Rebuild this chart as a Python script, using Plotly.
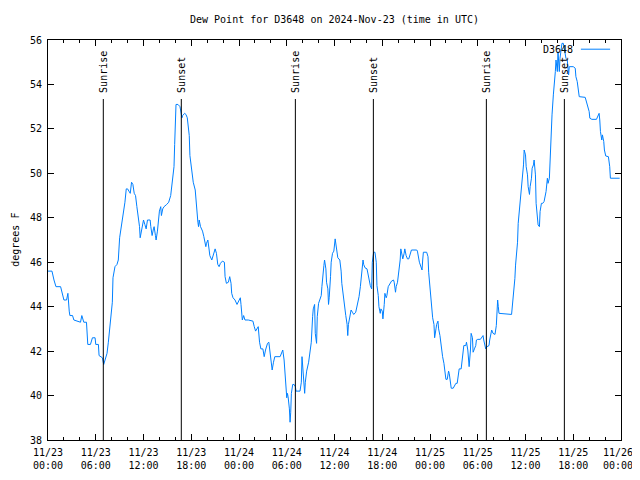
import pandas as pd
import plotly.graph_objects as go

# ---- data ----
start = "2024-11-23 00:00"
end = "2024-11-26 00:00"

# x tick labels, one every 6 hours from start to end
tick_labels = [
    "11/23<br>00:00", "11/23<br>06:00", "11/23<br>12:00", "11/23<br>18:00",
    "11/24<br>00:00", "11/24<br>06:00", "11/24<br>12:00", "11/24<br>18:00",
    "11/25<br>00:00", "11/25<br>06:00", "11/25<br>12:00", "11/25<br>18:00",
    "11/26\u00a0<br>00:00\u00a0",
]

# minutes since 2024-11-23 00:00 UTC
minutes = [
    0, 30, 45, 60, 95, 110, 120, 140, 150, 160,
    165, 185, 195, 245, 255, 270, 290, 300, 320, 335,
    355, 360, 380, 385, 410, 420, 430, 445, 455, 465,
    475, 485, 490, 505, 520, 530, 540, 550, 565, 570,
    580, 590, 600, 610, 620, 630, 640, 650, 660, 670,
    680, 690, 695, 705, 710, 720, 730, 740, 750, 770,
    775, 785, 795, 800, 810, 815, 825, 830, 840, 850,
    855, 865, 875, 895, 910, 925, 935, 950, 955, 965,
    980, 995, 1010, 1015, 1030, 1040, 1050, 1060, 1065, 1070,
    1085, 1095, 1110, 1115, 1120, 1130, 1135, 1140, 1150, 1165,
    1175, 1190, 1195, 1205, 1215, 1220, 1235, 1245, 1260, 1270,
    1280, 1290, 1300, 1315, 1330, 1335, 1345, 1360, 1370, 1380,
    1385, 1395, 1410, 1425, 1435, 1450, 1455, 1465, 1475, 1485,
    1510, 1545, 1555, 1565, 1575, 1585, 1595, 1605, 1620, 1630,
    1640, 1655, 1665, 1675, 1685, 1690, 1700, 1710, 1750, 1760,
    1770, 1780, 1785, 1795, 1800, 1805, 1810, 1820, 1825, 1830,
    1835, 1845, 1855, 1865, 1870, 1900, 1910, 1915, 1920, 1930,
    1935, 1940, 1950, 1965, 1975, 1985, 1995, 2000, 2010, 2015,
    2025, 2030, 2040, 2050, 2060, 2065, 2070, 2080, 2085, 2095,
    2100, 2110, 2115, 2120, 2130, 2135, 2145, 2155, 2165, 2175,
    2185, 2200, 2210, 2215, 2225, 2235, 2245, 2255, 2260, 2265,
    2275, 2285, 2295, 2305, 2320, 2330, 2345, 2355, 2365, 2375,
    2380, 2390, 2405, 2415, 2420, 2430, 2440, 2445, 2455, 2465,
    2475, 2480, 2490, 2495, 2505, 2510, 2520, 2525, 2535, 2540,
    2550, 2555, 2565, 2580, 2590, 2605, 2610, 2620, 2625, 2635,
    2645, 2655, 2660, 2670, 2675, 2685, 2690, 2700, 2710, 2720,
    2735, 2740, 2780, 2785, 2800, 2810, 2820, 2825, 2830, 2855,
    2865, 2870, 2880, 2885, 2895, 2900, 2910, 2915, 2925, 2930,
    2940, 2945, 2955, 2960, 2970, 2975, 2985, 2995, 3000, 3010,
    3020, 3025, 3035, 3040, 3055, 3065, 3075, 3085, 3095, 3100,
    3115, 3120, 3125, 3135, 3150, 3155, 3165, 3170, 3175, 3185,
    3190, 3200, 3205, 3215, 3225, 3230, 3240, 3260, 3270, 3280,
    3285, 3295, 3300, 3310, 3325, 3330, 3340, 3345, 3355, 3370,
    3380, 3385, 3390, 3395, 3400, 3495, 3505, 3510, 3520, 3525,
    3535, 3540, 3545, 3555, 3560, 3570, 3575, 3585, 3590, 3600,
    3605, 3615, 3620, 3630, 3635, 3645, 3650, 3660, 3665, 3675,
    3680, 3690, 3695, 3705, 3710, 3720, 3730, 3740, 3750, 3755,
    3765, 3770, 3780, 3785, 3795, 3800, 3810, 3815, 3825, 3830,
    3840, 3845, 3855, 3860, 3870, 3875, 3885, 3890, 3900, 3905,
    3915, 3925, 3930, 3960, 3975, 3980, 3990, 3995, 4005, 4050,
    4060, 4070, 4080, 4085, 4100, 4135, 4145, 4155, 4160, 4165,
    4175, 4180, 4190, 4195, 4205, 4225, 4235, 4240, 4310,
]

# dew point, degrees F
dewpoint = [
    45.6, 45.6, 45.2, 44.9, 44.9, 44.5, 44.3, 44.3, 44.6, 43.8,
    43.6, 43.6, 43.4, 43.3, 43.6, 43.3, 43.3, 42.3, 42.3, 42.6,
    42.6, 42.3, 42.3, 41.8, 41.7, 41.4, 41.6, 41.9, 42.4, 43.1,
    43.8, 44.2, 45.3, 45.8, 45.9, 46.1, 47.1, 47.5, 47.9, 48.2,
    48.7, 49.3, 49.3, 49.2, 49.1, 49.6, 49.5, 49.1, 49.0, 48.5,
    48.1, 47.6, 47.1, 47.4, 47.6, 47.9, 47.7, 47.5, 47.9, 47.9,
    47.6, 47.2, 47.5, 47.6, 47.2, 47.0, 47.4, 47.8, 48.3, 48.5,
    48.1, 48.4, 48.5, 48.6, 48.7, 49.0, 49.6, 50.3, 51.3, 53.1,
    53.1, 53.0, 52.5, 52.6, 52.7, 52.65, 52.5, 52.1, 51.7, 50.8,
    50.1, 49.6, 49.25, 48.8, 48.3, 47.8, 47.6, 47.9, 47.6, 47.4,
    47.15, 46.7, 46.85, 47.0, 46.55, 46.3, 46.1, 46.3, 46.6, 46.4,
    45.9, 45.8, 45.95, 46.05, 46.0, 45.35, 45.05, 45.1, 45.35, 45.05,
    44.6, 44.4, 44.3, 44.1, 44.2, 44.4, 44.1, 43.4, 43.6, 43.4,
    43.4, 43.35, 43.1, 42.9, 43.0, 43.1, 42.4, 42.1, 42.1, 41.75,
    42.05, 42.35, 42.4, 41.95, 41.5, 41.15, 41.5, 41.75, 41.75, 41.95,
    42.05, 41.6, 41.1, 40.25, 39.9, 40.1, 39.95, 39.4, 38.8, 39.25,
    40.1, 40.5, 40.5, 40.4, 40.2, 40.2, 40.6, 41.75, 41.4, 40.55,
    40.1, 40.6, 41.1, 41.5, 41.95, 42.4, 43.55, 43.9, 44.1, 42.8,
    42.35, 43.55, 44.15, 44.3, 44.5, 44.9, 45.4, 45.85, 46.1, 45.7,
    45.1, 44.8, 44.1, 44.4, 45.35, 46.0, 46.4, 46.5, 47.05, 46.7,
    46.2, 46.1, 45.6, 45.05, 44.5, 44.1, 43.6, 43.2, 42.7, 43.2,
    43.55, 43.85, 43.75, 43.65, 43.75, 44.0, 44.45, 44.9, 45.55, 46.1,
    45.9, 45.75, 45.7, 45.4, 45.2, 44.95, 44.8, 46.0, 46.45, 46.45,
    46.0, 44.95, 44.5, 44.0, 43.7, 43.9, 43.8, 43.45, 44.1, 44.6,
    44.4, 44.5, 44.9, 45.05, 45.15, 45.2, 45.1, 44.65, 44.9, 45.1,
    45.55, 46.1, 46.6, 46.3, 46.15, 46.4, 46.6, 46.3, 46.15, 46.15,
    46.4, 46.55, 46.55, 46.5, 46.0, 45.8, 45.65, 46.1, 46.45, 46.45,
    46.25, 45.55, 44.9, 44.3, 43.8, 43.5, 43.2, 42.6, 43.0, 43.2,
    43.35, 43.0, 42.7, 42.4, 42.05, 41.75, 41.45, 41.0, 40.73, 40.73,
    41.1, 41.0, 40.6, 40.33, 40.33, 40.43, 40.55, 40.55, 41.0, 41.2,
    41.2, 41.45, 41.95, 42.25, 42.25, 42.4, 42.05, 41.7, 41.3, 42.05,
    42.8, 42.6, 41.95, 42.1, 42.25, 42.5, 42.53, 42.53, 42.65, 42.7,
    42.5, 42.2, 42.1, 42.2, 42.25, 42.5, 42.8, 42.95, 42.8, 42.75,
    43.15, 44.0, 44.3, 44.0, 43.7, 43.65, 44.2, 44.65, 45.27, 45.87,
    46.47, 46.9, 47.75, 48.35, 48.85, 49.4, 49.85, 50.38, 51.05, 50.83,
    50.3, 49.93, 49.4, 49.05, 49.4, 49.78, 50.23, 50.38, 50.6, 49.93,
    48.65, 47.9, 47.68, 47.6, 48.28, 48.65, 48.65, 48.73, 48.95, 49.18,
    49.78, 49.55, 49.78, 50.75, 51.88, 52.63, 53.53, 53.83, 54.58, 55.1,
    54.58, 55.47, 54.58, 55.18, 55.63, 55.85, 55.85, 55.63, 55.18, 55.18,
    55.1, 54.43, 54.8, 54.8, 54.73, 54.35, 54.13, 53.9, 53.45, 53.42,
    53.22, 53.0, 52.78, 52.48, 52.43, 52.43, 52.55, 52.7, 52.4, 51.88,
    51.5, 51.73, 51.43, 51.05, 50.78, 50.75, 50.3, 49.78, 49.78,
]

# sunrise / sunset markers (minutes since start)
sun_minutes = [417, 1005, 1865, 2453, 3305, 3893]
sun_labels = ["Sunrise", "Sunset", "Sunrise", "Sunset", "Sunrise", "Sunset"]

station = "D3648"
title = "Dew Point for D3648 on 2024-Nov-23 (time in UTC)"
y_title = "degrees F"

# ---- figure ----
FONT = "DejaVu Sans Mono"
t0 = pd.Timestamp(start)
times = t0 + pd.to_timedelta(minutes, unit="min")
sun_times = t0 + pd.to_timedelta(sun_minutes, unit="min")
tick_vals = pd.date_range(start, end, freq="6h")

# page body adds an 8px offset; size the figure so the page does not scroll
W, H = 632, 464

fig = go.Figure()
fig.add_trace(go.Scatter(
    x=times, y=dewpoint, mode="lines", name=station,
    line=dict(color="rgb(0,128,255)", width=1),
    showlegend=False,
))

shapes = []
annotations = []
for t, lab in zip(sun_times, sun_labels):
    shapes.append(dict(type="line", xref="x", yref="paper",
                       x0=t, x1=t, y0=0, y1=0.8525,
                       line=dict(color="black", width=1)))
    annotations.append(dict(text=lab, x=t, xref="x", y=0.866, yref="paper",
                            textangle=-90, xanchor="center", yanchor="bottom",
                            showarrow=False, borderpad=0,
                            font=dict(family=FONT, size=10, color="black")))

# legend (gnuplot style: text then line sample)
annotations.append(dict(text=station, x=0.9197, xref="paper", y=0.976, yref="paper",
                        xanchor="right", yanchor="middle", showarrow=False,
                        font=dict(family=FONT, size=10, color="black")))
shapes.append(dict(type="line", xref="paper", yref="paper",
                   x0=0.930, x1=0.981, y0=0.977, y1=0.977,
                   line=dict(color="rgb(0,128,255)", width=1)))

# y axis title
annotations.append(dict(text=y_title, x=-0.058, xref="paper", y=0.5, yref="paper",
                        textangle=-90, xanchor="center", yanchor="middle",
                        showarrow=False, borderpad=0,
                        font=dict(family=FONT, size=10, color="black")))

fig.update_layout(
    width=W, height=H,
    margin=dict(l=40, r=19, t=32, b=32, autoexpand=False),
    paper_bgcolor="white", plot_bgcolor="white",
    font=dict(family=FONT, size=10, color="black"),
    title=dict(text=title, x=0.5, xref="paper", xanchor="center",
               y=1 - 11 / H, yref="container", yanchor="middle",
               font=dict(family=FONT, size=10, color="black")),
    shapes=shapes, annotations=annotations,
    showlegend=False,
)
fig.update_xaxes(
    type="date", range=[start, end],
    tickmode="array", tickvals=tick_vals, ticktext=tick_labels,
    ticks="inside", ticklen=6, tickcolor="black", tickwidth=1,
    showline=True, linecolor="black", linewidth=1, mirror="allticks",
    showgrid=False, zeroline=False,
    minor=dict(ticks="inside", ticklen=3, dtick=2 * 3600 * 1000, tick0=start,
               tickcolor="black", showgrid=False),
    tickfont=dict(family=FONT, size=10, color="black"),
    ticklabelstandoff=3, ticklabeloverflow="allow",
)
fig.update_yaxes(
    range=[38, 56], dtick=2,
    ticks="inside", ticklen=6, tickcolor="black", tickwidth=1,
    showline=True, linecolor="black", linewidth=1, mirror="allticks",
    showgrid=False, zeroline=False,
    tickfont=dict(family=FONT, size=10, color="black"),
    ticklabelstandoff=3,
)

fig.write_html("out.html")
